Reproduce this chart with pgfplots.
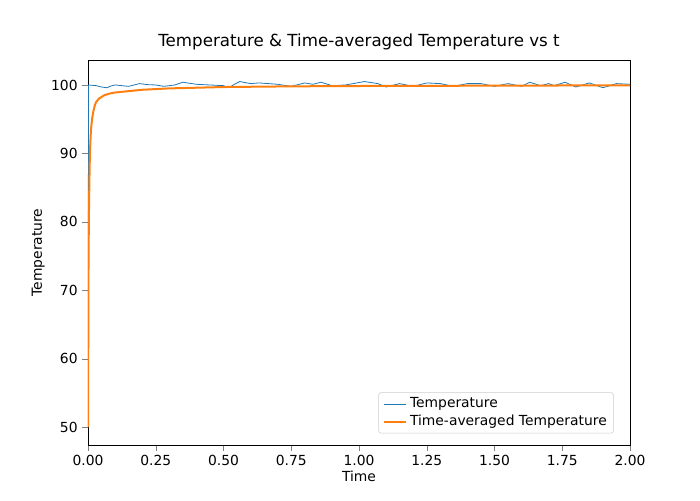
\documentclass[border=0pt]{standalone}
\usepackage{pgfplots}
\pgfplotsset{compat=1.18}
\usepackage{fontspec}
\setmainfont{DejaVu Sans}
\definecolor{mblue}{HTML}{1F77B4}
\definecolor{morange}{HTML}{FF7F0E}
\begin{document}
\begin{tikzpicture}
\useasboundingbox (-66pt,-41.25pt) rectangle (459pt,333.75pt);
\begin{axis}[
  at={(0,0)}, anchor=south west, scale only axis,
  width=406.5pt, height=288.75pt,
  xmin=0, xmax=2, ymin=47.4, ymax=103.65,
  xtick={0,0.25,...,2}, ytick={50,60,...,100},
  xticklabel style={/pgf/number format/.cd,fixed,fixed zerofill,precision=2},
  /pgf/number format/assume math mode=true,
  tick label style={font=\fontsize{10.4}{12}\selectfont},
  label style={font=\fontsize{10.4}{12}\selectfont},
  xlabel={Time}, ylabel={Temperature},
  xlabel style={yshift=3pt}, ylabel style={yshift=-2pt},
  title={Temperature \& Time-averaged Temperature vs t},
  title style={font=\fontsize{12.5}{14}\selectfont, yshift=-2pt},
  tick align=outside, tick pos=left,
  legend pos=south east,
  legend style={font=\fontsize{10.4}{12}\selectfont, draw=black!20, rounded corners=2pt, cells={anchor=west}},
  legend cell align=left,
]
\addplot[mblue, line width=0.6pt] coordinates {
(0,50)(0.002,100)(0.03,99.9)(0.05,99.7)(0.07,99.6)(0.085,99.85)(0.1,100.0)(0.125,99.9)(0.15,99.8)(0.17,100.0)(0.19,100.2)(0.22,100.05)(0.25,100.0)(0.28,99.8)(0.32,100.0)(0.35,100.4)(0.4,100.1)(0.45,100.0)(0.5,99.9)(0.52,99.6)(0.54,100.1)(0.56,100.5)(0.6,100.2)(0.63,100.3)(0.7,100.1)(0.75,99.8)(0.8,100.3)(0.83,100.1)(0.86,100.4)(0.9,99.9)(0.95,100.0)(1.02,100.5)(1.07,100.2)(1.1,99.7)(1.15,100.2)(1.2,99.8)(1.25,100.3)(1.3,100.2)(1.35,99.8)(1.4,100.2)(1.45,100.2)(1.5,99.8)(1.55,100.2)(1.6,99.8)(1.63,100.4)(1.67,99.9)(1.7,100.2)(1.72,99.9)(1.76,100.4)(1.8,99.7)(1.85,100.3)(1.9,99.6)(1.95,100.2)(2.0,100.1)
};
\addlegendentry{Temperature}
\addplot[morange, line width=1.5pt] coordinates {
(0,50)(0.002,75)(0.004,83)(0.006,88)(0.008,91)(0.011,93.5)(0.015,95)(0.02,96.2)(0.025,97)(0.03,97.5)(0.04,98)(0.06,98.5)(0.08,98.75)(0.1,98.9)(0.15,99.1)(0.2,99.3)(0.3,99.5)(0.4,99.6)(0.5,99.7)(0.75,99.8)(1,99.85)(1.5,99.9)(2,99.95)
};
\addlegendentry{Time-averaged Temperature}
\end{axis}
\end{tikzpicture}
\end{document}
